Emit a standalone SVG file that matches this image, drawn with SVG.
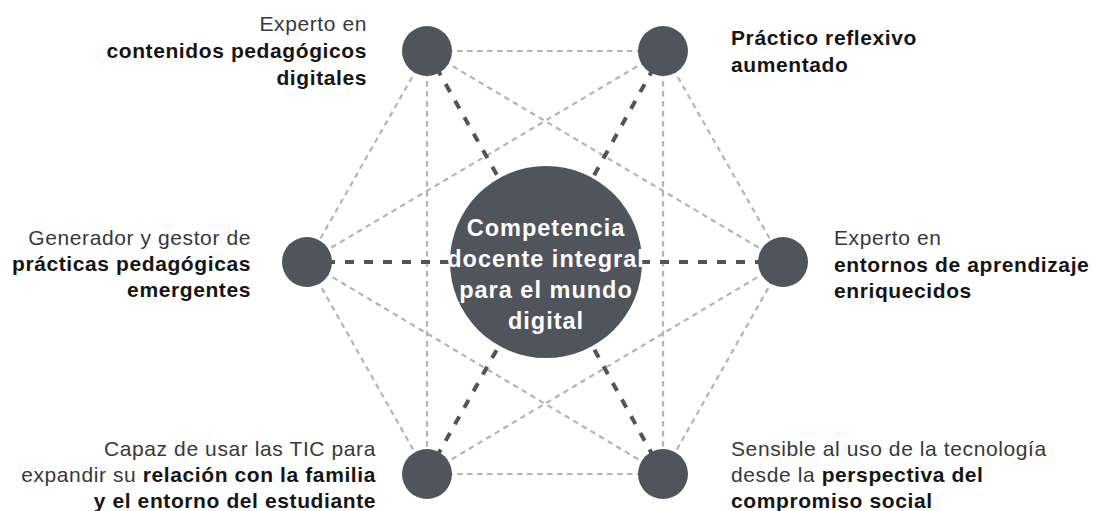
<svg xmlns="http://www.w3.org/2000/svg" width="1094" height="511" viewBox="0 0 1094 511">
<style>
.faint{stroke:#b4b4b4;stroke-width:2.2;stroke-dasharray:5.5 4.5;fill:none}
.thick{stroke:#50555d;stroke-width:4;stroke-dasharray:9 10;fill:none}
.node{fill:#50555d}
.lbl{font-family:"Liberation Sans",Arial,sans-serif;font-size:21px}
.r{fill:#383838;letter-spacing:0.6px}
.b{fill:#151515;font-weight:bold;letter-spacing:0.6px}
.ctr{font-family:"Liberation Sans",Arial,sans-serif;font-size:23.5px;font-weight:bold;fill:#ffffff;letter-spacing:1px;text-anchor:middle}
</style>
<rect width="1094" height="511" fill="#ffffff"/>
<g id="connectors">
<line class="faint" x1="427" y1="51" x2="663" y2="51"/>
<line class="faint" x1="427" y1="474" x2="663" y2="474"/>
<line class="faint" x1="427" y1="51" x2="307" y2="262"/>
<line class="faint" x1="427" y1="51" x2="427" y2="474"/>
<line class="faint" x1="427" y1="51" x2="783" y2="262"/>
<line class="faint" x1="663" y1="51" x2="783" y2="262"/>
<line class="faint" x1="663" y1="51" x2="663" y2="474"/>
<line class="faint" x1="663" y1="51" x2="307" y2="262"/>
<line class="faint" x1="307" y1="262" x2="427" y2="474"/>
<line class="faint" x1="307" y1="262" x2="663" y2="474"/>
<line class="faint" x1="783" y1="262" x2="663" y2="474"/>
<line class="faint" x1="783" y1="262" x2="427" y2="474"/>
<line class="thick" x1="427" y1="51" x2="546" y2="262"/>
<line class="thick" x1="663" y1="51" x2="546" y2="262"/>
<line class="thick" x1="307" y1="262" x2="546" y2="262"/>
<line class="thick" x1="783" y1="262" x2="546" y2="262"/>
<line class="thick" x1="427" y1="474" x2="546" y2="262"/>
<line class="thick" x1="663" y1="474" x2="546" y2="262"/>
</g>
<g id="center">
<circle class="node" cx="546" cy="262" r="96"/>
<text class="ctr" x="546" y="236">Competencia</text>
<text class="ctr" x="546" y="267">docente integral</text>
<text class="ctr" x="546" y="298">para el mundo</text>
<text class="ctr" x="546" y="329">digital</text>
</g>
<g id="node-tl">
<circle class="node" cx="427" cy="51" r="25"/>
<text class="lbl" text-anchor="end"><tspan class="r" x="367" y="31">Experto en</tspan><tspan class="b" x="367" y="58">contenidos pedagógicos</tspan><tspan class="b" x="367" y="85">digitales</tspan></text>
</g>
<g id="node-tr">
<circle class="node" cx="663" cy="51" r="25"/>
<text class="lbl"><tspan class="b" x="731" y="45">Práctico reflexivo</tspan><tspan class="b" x="731" y="72">aumentado</tspan></text>
</g>
<g id="node-l">
<circle class="node" cx="307" cy="262" r="25"/>
<text class="lbl" text-anchor="end"><tspan class="r" x="251" y="245">Generador y gestor de</tspan><tspan class="b" x="251" y="271">prácticas pedagógicas</tspan><tspan class="b" x="251" y="297">emergentes</tspan></text>
</g>
<g id="node-r">
<circle class="node" cx="783" cy="262" r="25"/>
<text class="lbl"><tspan class="r" x="834" y="245">Experto en</tspan><tspan class="b" x="834" y="272">entornos de aprendizaje</tspan><tspan class="b" x="834" y="298">enriquecidos</tspan></text>
</g>
<g id="node-bl">
<circle class="node" cx="427" cy="474" r="25"/>
<text class="lbl" text-anchor="end" x="376" y="456"><tspan class="r">Capaz de usar las TIC para</tspan></text>
<text class="lbl" text-anchor="end" x="376" y="482"><tspan class="r">expandir su </tspan><tspan class="b">relación con la familia</tspan></text>
<text class="lbl" text-anchor="end" x="376" y="508"><tspan class="b">y el entorno del estudiante</tspan></text>
</g>
<g id="node-br">
<circle class="node" cx="663" cy="474" r="25"/>
<text class="lbl" x="731" y="456"><tspan class="r">Sensible al uso de la tecnología</tspan></text>
<text class="lbl" x="731" y="482"><tspan class="r">desde la </tspan><tspan class="b">perspectiva del</tspan></text>
<text class="lbl" x="731" y="508"><tspan class="b">compromiso social</tspan></text>
</g>
</svg>
